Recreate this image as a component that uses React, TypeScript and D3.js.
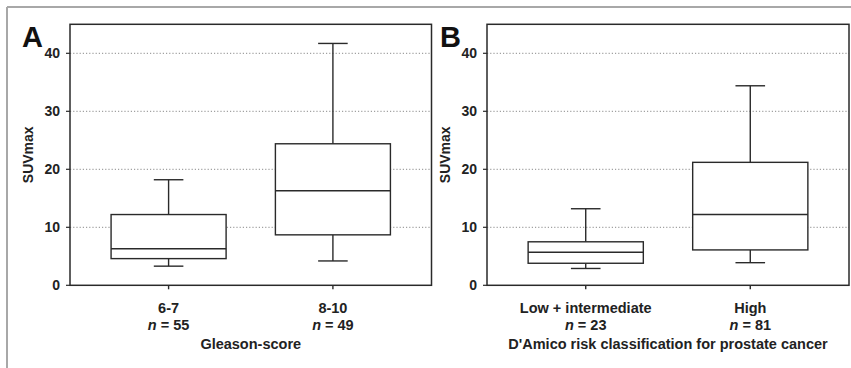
import React from "react";
import * as d3 from "d3";

const panelLetters = ["A", "B"];
const categoriesA = ["6-7", "8-10"];
const countsA = [55, 49];
const minA = [3.3, 4.2];
const q1A = [4.6, 8.7];
const medianA = [6.3, 16.3];
const q3A = [12.2, 24.4];
const maxA = [18.2, 41.7];

const categoriesB = ["Low + intermediate", "High"];
const countsB = [23, 81];
const minB = [2.9, 3.9];
const q1B = [3.8, 6.1];
const medianB = [5.7, 12.2];
const q3B = [7.5, 21.2];
const maxB = [13.2, 34.4];

const yTicks = [0, 10, 20, 30, 40];
const yDomain = [0, 45];
const xTitles = ["Gleason-score", "D'Amico risk classification for prostate cancer"];
const yTitle = "SUVmax";

const FONT = "'Liberation Sans', Arial, Helvetica, sans-serif";
const INK = "#2a2a2a";

type PanelProps = {
  letter: string;
  left: number;
  right: number;
  cats: string[];
  counts: number[];
  mins: number[];
  q1s: number[];
  meds: number[];
  q3s: number[];
  maxs: number[];
  xTitle: string;
  letterX: number;
};

function Panel(p: PanelProps) {
  const top = 24.3;
  const bottom = 285.3;
  const y = d3.scaleLinear().domain(yDomain).range([bottom, top]);
  const x = d3.scalePoint<string>().domain(p.cats).range([p.left, p.right]).padding(0.6);
  const step = x.step();
  const boxW = step * 0.7;
  const capW = step * 0.18;
  const midX = (p.left + p.right) / 2;
  return (
    <g>
      {yTicks.filter((t) => t > 0).map((t) => (
        <line
          key={"g" + t}
          x1={p.left}
          x2={p.right}
          y1={y(t)}
          y2={y(t)}
          stroke="#8a8a8a"
          strokeWidth={1}
          strokeDasharray="1.2,2"
        />
      ))}
      {p.cats.map((c, i) => {
        const cx = x(c)!;
        return (
          <g key={c} stroke={INK} strokeWidth={1.4} fill="none">
            <line x1={cx} x2={cx} y1={y(p.q3s[i])} y2={y(p.maxs[i])} />
            <line x1={cx} x2={cx} y1={y(p.q1s[i])} y2={y(p.mins[i])} />
            <line x1={cx - capW / 2} x2={cx + capW / 2} y1={y(p.maxs[i])} y2={y(p.maxs[i])} />
            <line x1={cx - capW / 2} x2={cx + capW / 2} y1={y(p.mins[i])} y2={y(p.mins[i])} />
            <rect
              x={cx - boxW / 2}
              y={y(p.q3s[i])}
              width={boxW}
              height={y(p.q1s[i]) - y(p.q3s[i])}
              fill="white"
            />
            <line x1={cx - boxW / 2} x2={cx + boxW / 2} y1={y(p.meds[i])} y2={y(p.meds[i])} />
            <line x1={cx} x2={cx} y1={bottom} y2={bottom + 4} />
          </g>
        );
      })}
      <rect
        x={p.left}
        y={top}
        width={p.right - p.left}
        height={bottom - top}
        fill="none"
        stroke={INK}
        strokeWidth={1.5}
      />
      {yTicks.map((t) => (
        <g key={"t" + t}>
          <line x1={p.left - 4} x2={p.left} y1={y(t)} y2={y(t)} stroke={INK} strokeWidth={1.2} />
          <text
            x={p.left - 10}
            y={y(t)}
            dy="0.36em"
            textAnchor="end"
            fontSize={14}
            fontWeight="bold"
            fill="#222"
          >
            {t}
          </text>
        </g>
      ))}
      <text
        transform={`translate(${p.left - 42},${(top + bottom) / 2}) rotate(-90)`}
        textAnchor="middle"
        dy="0.36em"
        fontSize={14}
        fontWeight="bold"
        fill="#222"
      >
        {yTitle}
      </text>
      {p.cats.map((c, i) => (
        <g key={"l" + c}>
          <text x={x(c)!} y={313} textAnchor="middle" fontSize={14.5} fontWeight="bold" fill="#222">
            {c}
          </text>
          <text x={x(c)!} y={329.5} textAnchor="middle" fontSize={14.5} fontWeight="bold" fill="#222">
            <tspan fontStyle="italic">n</tspan>
            {" = " + p.counts[i]}
          </text>
        </g>
      ))}
      <text x={midX} y={349} textAnchor="middle" fontSize={14.5} fontWeight="bold" fill="#222">
        {p.xTitle}
      </text>
      <text x={p.letterX} y={47} fontSize={29} fontWeight="bold" fill="#111">
        {p.letter}
      </text>
    </g>
  );
}

export default function App() {
  return (
    <svg
      width={851}
      height={368}
      style={{ position: "absolute", left: 0, top: 0, background: "white" }}
      fontFamily={FONT}
    >
      <rect x={0} y={0} width={851} height={368} fill="white" />
      <line x1={7} x2={851} y1={7} y2={7} stroke="#a8a8a8" strokeWidth={2} />
      <line x1={7} x2={7} y1={7} y2={368} stroke="#a8a8a8" strokeWidth={2} />
      <Panel
        letter={panelLetters[0]}
        left={70}
        right={431.5}
        cats={categoriesA}
        counts={countsA}
        mins={minA}
        q1s={q1A}
        meds={medianA}
        q3s={q3A}
        maxs={maxA}
        xTitle={xTitles[0]}
        letterX={22}
      />
      <Panel
        letter={panelLetters[1]}
        left={487}
        right={849}
        cats={categoriesB}
        counts={countsB}
        mins={minB}
        q1s={q1B}
        meds={medianB}
        q3s={q3B}
        maxs={maxB}
        xTitle={xTitles[1]}
        letterX={440}
      />
    </svg>
  );
}
